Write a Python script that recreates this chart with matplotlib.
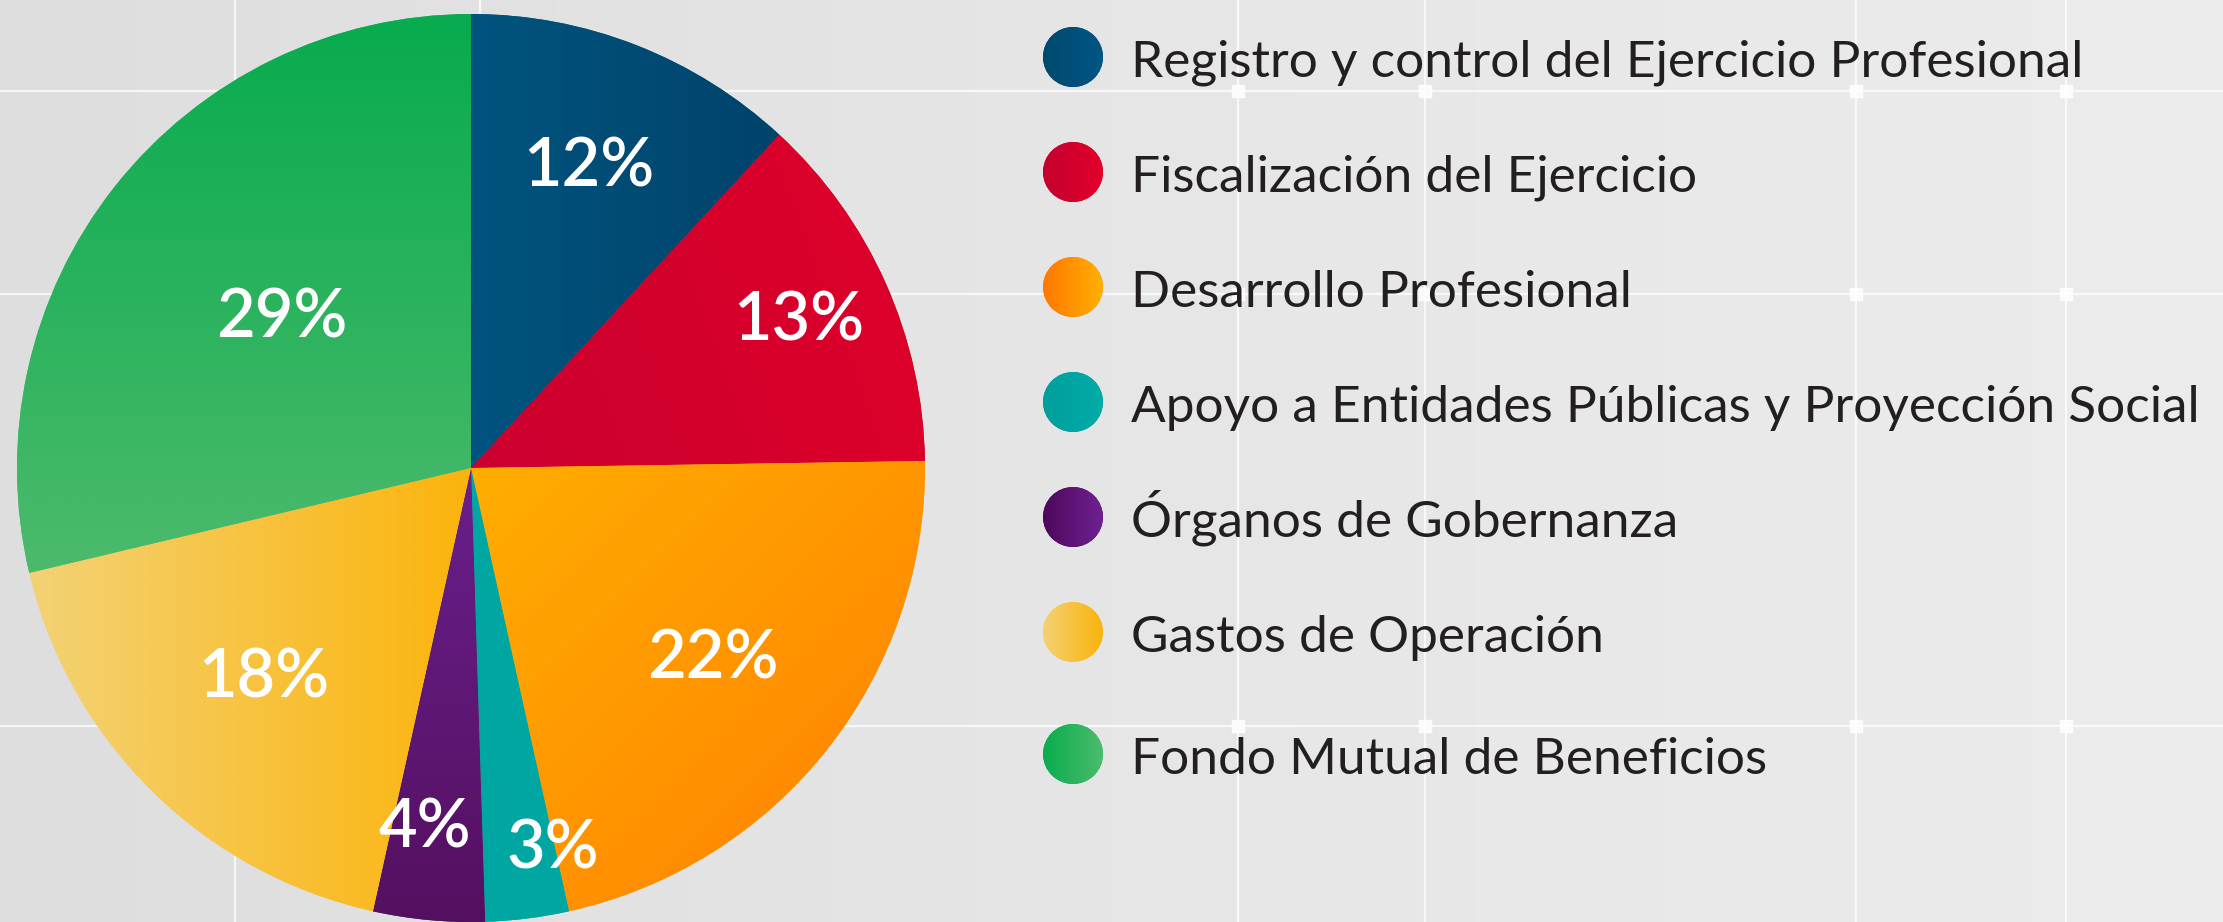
import matplotlib
matplotlib.use("Agg")
import matplotlib.pyplot as plt
import numpy as np
from matplotlib.colors import LinearSegmentedColormap
from matplotlib.patches import Circle

categories = [
    "Registro y control del Ejercicio Profesional",
    "Fiscalización del Ejercicio",
    "Desarrollo Profesional",
    "Apoyo a Entidades Públicas y Proyección Social",
    "Órganos de Gobernanza",
    "Gastos de Operación",
    "Fondo Mutual de Beneficios",
]
percentages = [12, 13, 22, 3, 4, 18, 29]

# slice gradients: start colour, end colour, direction (degrees, 0 = left->right)
slice_colors = [
    ("#00547f", "#00436b", 0),
    ("#cc0030", "#de0028", 20),
    ("#ffae00", "#ff7e00", -45),
    ("#00a8a3", "#00a6a2", 0),
    ("#541060", "#6a1f8c", 90),
    ("#f3d275", "#fcb40c", 0),
    ("#4cba6c", "#08ab4f", 90),
]
# legend dots are shaded left to right
dot_colors = [
    ("#00496f", "#005685"),
    ("#c4002f", "#e2002a"),
    ("#ff7800", "#ffb000"),
    ("#009f9c", "#00aca9"),
    ("#4e085c", "#6e2191"),
    ("#f3d272", "#fbb30c"),
    ("#0aad4e", "#4cbb6e"),
]

W, H = 2223, 922
fig = plt.figure(figsize=(W / 100, H / 100), dpi=100)


def gradient_fill(ax, patch, c0, c1, angle, n=400):
    # patch outline in data coordinates (circles keep a unit path + patch transform)
    verts = patch.get_patch_transform().transform(patch.get_path().vertices)
    x0, y0 = verts.min(axis=0)
    x1, y1 = verts.max(axis=0)
    xs = np.linspace(x0, x1, n)
    ys = np.linspace(y0, y1, n)
    X, Y = np.meshgrid(xs, ys)
    a = np.deg2rad(angle)
    t = X * np.cos(a) + Y * np.sin(a)
    t = (t - t.min()) / (t.max() - t.min() + 1e-12)
    cmap = LinearSegmentedColormap.from_list("g", [c0, c1])
    im = ax.imshow(t, cmap=cmap, extent=[x0, x1, y0, y1], origin="lower",
                   aspect="auto", interpolation="bilinear", zorder=patch.get_zorder() + 0.1)
    im.set_clip_path(patch)
    return im


# background panel in pixel units
bg = fig.add_axes([0, 0, 1, 1])
bg.set_xlim(0, W)
bg.set_ylim(H, 0)
bg.axis("off")
shade = np.linspace(0, 1, 256).reshape(1, -1)
bg.imshow(shade, extent=[0, W, H, 0], aspect="auto", zorder=0,
          cmap=LinearSegmentedColormap.from_list("bg", ["#dedede", "#e6e6e6", "#ececec"]))
for gx in [235, 480, 1238, 1425, 1856, 2066]:
    bg.plot([gx, gx], [0, H], color="white", lw=1.6, alpha=0.75, zorder=1)
for gy in [91, 294, 726]:
    bg.plot([0, W], [gy, gy], color="white", lw=1.6, alpha=0.75, zorder=1)
for gx in [1238, 1425, 1856, 2066]:
    for gy in [91, 294, 726]:
        bg.plot(gx, gy, marker="s", ms=9, color="white", alpha=0.85, zorder=1)
bg.set_xlim(0, W)
bg.set_ylim(H, 0)

# legend
dot_x, text_x = 1073, 1131
dot_y = [57, 172, 287, 402, 517, 632, 754]
for label, (c0, c1), y in zip(categories, dot_colors, dot_y):
    dot = Circle((dot_x, y), 30, facecolor=c0, edgecolor="none", zorder=3)
    bg.add_patch(dot)
    gradient_fill(bg, dot, c0, c1, 0, n=100)
    bg.text(text_x, y + 19.5, label, fontsize=37, family="Lato",
            color="#231f20", va="baseline", ha="left", zorder=5)
bg.set_xlim(0, W)
bg.set_ylim(H, 0)

# pie
cx, cy, r = 471, 468, 454
ax = fig.add_axes([(cx - r) / W, (H - cy - r) / H, 2 * r / W, 2 * r / H])
ax.patch.set_alpha(0)
wedges, _ = ax.pie(percentages, startangle=90, counterclock=False, radius=1,
                   wedgeprops=dict(linewidth=0))
ax.set_xlim(-1, 1)
ax.set_ylim(-1, 1)

label_r = [0.71, 0.79, 0.68, 0.86, 0.80, 0.65, 0.53]
label_turn = [0, 0, 0, 5, -2, 0, 0]
for w, (c0, c1, ang), pct, lr, turn in zip(wedges, slice_colors, percentages, label_r, label_turn):
    w.set_facecolor(c0)
    gradient_fill(ax, w, c0, c1, ang)
    mid = np.deg2rad((w.theta1 + w.theta2) / 2 + turn)
    ax.text(lr * np.cos(mid), lr * np.sin(mid), f"{pct}%", fontsize=48,
            family="Lato", weight="semibold", color="white",
            ha="center", va="center", zorder=10)
ax.set_xlim(-1, 1)
ax.set_ylim(-1, 1)

fig.savefig("out.png", dpi=100)
